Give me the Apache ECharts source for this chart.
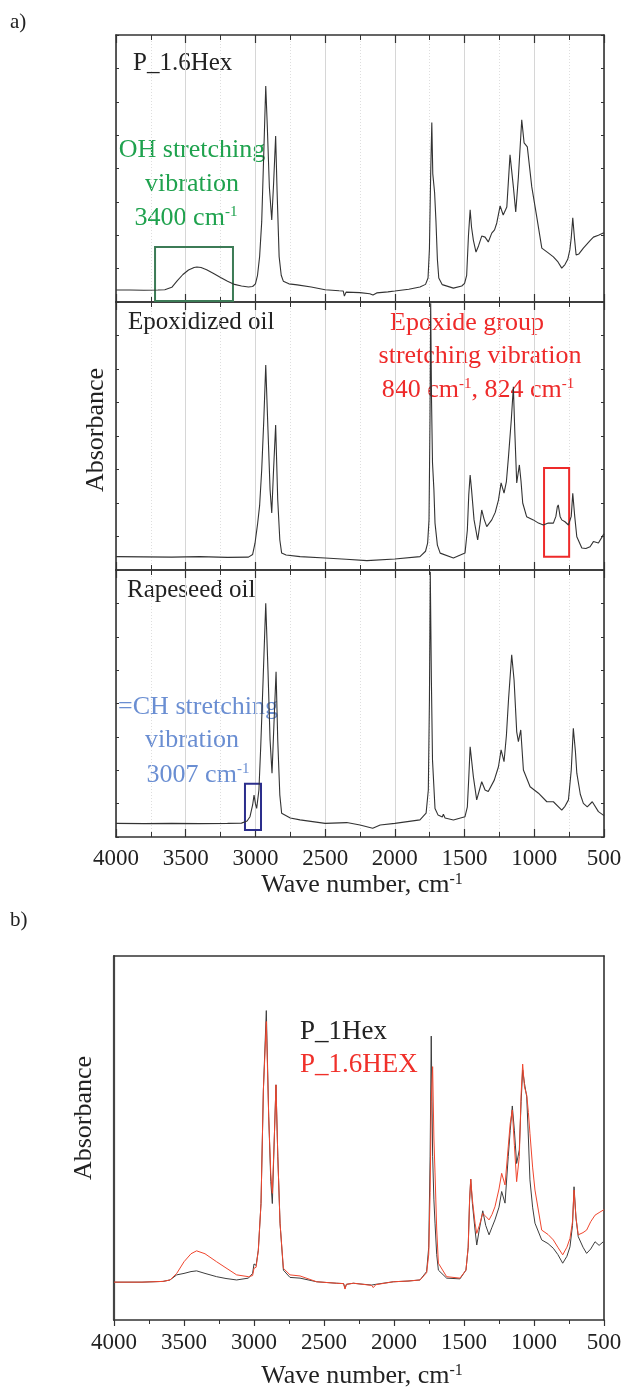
<!DOCTYPE html>
<html>
<head>
<meta charset="utf-8">
<script src="https://cdn.jsdelivr.net/npm/echarts@6/dist/echarts.min.js"></script>
<style>
html,body{margin:0;padding:0;background:#fff;}
#chart{width:627px;height:1387px;}
</style>
</head>
<body>
<div id="chart"></div>
<script>
// ---- data: [wave number (cm-1), absorbance (a.u., relative to panel height)] ----
const spec_p16hex = [
[4000,0.045],[3900,0.045],[3800,0.044],[3700,0.045],[3650,0.046],[3600,0.055],[3560,0.080],[3520,0.103],
[3480,0.120],[3440,0.129],[3420,0.131],[3390,0.129],[3350,0.121],[3300,0.107],[3250,0.092],[3200,0.078],
[3150,0.066],[3100,0.060],[3050,0.056],[3020,0.058],[3000,0.068],[2985,0.100],[2970,0.170],[2955,0.300],
[2940,0.560],[2926,0.809],[2915,0.660],[2900,0.430],[2883,0.307],[2870,0.440],[2855,0.622],[2845,0.420],
[2830,0.170],[2815,0.100],[2800,0.078],[2760,0.068],[2700,0.064],[2600,0.056],[2500,0.046],[2400,0.042],
[2370,0.041],[2362,0.022],[2350,0.037],[2300,0.036],[2250,0.035],[2180,0.031],[2157,0.026],[2130,0.034],
[2050,0.038],[2000,0.041],[1900,0.048],[1820,0.056],[1780,0.066],[1762,0.090],[1752,0.200],[1743,0.480],
[1735,0.672],[1728,0.480],[1715,0.410],[1705,0.300],[1695,0.160],[1685,0.090],[1660,0.065],[1580,0.052],
[1520,0.060],[1500,0.070],[1485,0.100],[1472,0.250],[1460,0.345],[1450,0.280],[1437,0.232],[1418,0.187],
[1400,0.210],[1377,0.247],[1353,0.243],[1330,0.225],[1305,0.258],[1285,0.270],[1269,0.296],[1245,0.360],
[1223,0.326],[1197,0.356],[1174,0.551],[1150,0.431],[1133,0.337],[1114,0.468],[1090,0.682],[1073,0.596],
[1050,0.581],[1018,0.431],[982,0.318],[946,0.202],[900,0.184],[863,0.169],[830,0.150],[803,0.127],
[780,0.140],[760,0.160],[745,0.195],[735,0.240],[724,0.315],[712,0.240],[700,0.176],[680,0.180],
[648,0.202],[600,0.230],[576,0.243],[540,0.250],[505,0.258],[500,0.259]
];
const spec_epox = [
[4000,0.050],[3800,0.049],[3600,0.048],[3400,0.050],[3200,0.047],[3050,0.048],[3020,0.058],[3003,0.100],
[2985,0.170],[2970,0.240],[2955,0.373],[2940,0.560],[2926,0.765],[2910,0.522],[2895,0.300],[2883,0.213],
[2870,0.373],[2855,0.541],[2840,0.261],[2825,0.112],[2812,0.063],[2780,0.056],[2680,0.050],[2500,0.045],
[2350,0.040],[2200,0.035],[2000,0.041],[1820,0.050],[1780,0.070],[1765,0.100],[1755,0.187],[1748,0.560],
[1743,0.995],[1737,0.634],[1730,0.400],[1720,0.300],[1712,0.175],[1695,0.093],[1675,0.063],[1580,0.045],
[1497,0.063],[1480,0.149],[1470,0.280],[1460,0.354],[1450,0.300],[1432,0.187],[1406,0.112],[1390,0.170],
[1377,0.224],[1360,0.190],[1341,0.162],[1305,0.187],[1280,0.215],[1257,0.261],[1238,0.325],[1217,0.287],
[1200,0.330],[1185,0.423],[1165,0.560],[1150,0.684],[1140,0.520],[1126,0.325],[1107,0.392],[1095,0.330],
[1083,0.250],[1055,0.199],[1007,0.187],[970,0.175],[935,0.168],[900,0.175],[863,0.175],[845,0.200],
[835,0.235],[828,0.243],[815,0.200],[803,0.187],[780,0.180],[755,0.168],[735,0.200],[724,0.286],
[710,0.200],[695,0.124],[659,0.082],[630,0.080],[600,0.087],[576,0.106],[540,0.101],[505,0.131],[500,0.135]
];
const spec_rapeseed = [
[4000,0.051],[3800,0.050],[3600,0.051],[3400,0.050],[3200,0.051],[3100,0.052],[3060,0.060],[3039,0.076],
[3020,0.120],[3010,0.157],[3000,0.125],[2991,0.107],[2975,0.176],[2962,0.338],[2945,0.588],[2926,0.875],
[2910,0.625],[2895,0.363],[2881,0.239],[2866,0.438],[2852,0.619],[2840,0.363],[2825,0.157],[2812,0.089],
[2750,0.071],[2680,0.064],[2500,0.051],[2345,0.054],[2250,0.045],[2159,0.033],[2105,0.045],[2000,0.051],
[1820,0.064],[1776,0.089],[1760,0.176],[1752,0.513],[1746,0.993],[1738,0.588],[1730,0.288],[1712,0.107],
[1690,0.082],[1660,0.075],[1652,0.085],[1640,0.071],[1580,0.064],[1497,0.076],[1480,0.113],[1470,0.220],
[1460,0.338],[1437,0.226],[1413,0.139],[1377,0.207],[1353,0.176],[1330,0.170],[1287,0.213],[1257,0.263],
[1238,0.326],[1217,0.282],[1200,0.380],[1185,0.513],[1162,0.682],[1145,0.588],[1126,0.394],[1114,0.357],
[1097,0.401],[1078,0.251],[1030,0.188],[970,0.164],[910,0.132],[863,0.132],[803,0.101],[780,0.115],
[755,0.139],[735,0.250],[720,0.407],[705,0.320],[695,0.239],[670,0.160],[648,0.126],[620,0.113],
[584,0.132],[540,0.095],[505,0.082],[500,0.080]
];
const spec_p1hex_b = [
[4000,0.104],[3800,0.104],[3650,0.106],[3600,0.110],[3552,0.124],[3500,0.128],[3450,0.133],[3410,0.135],
[3350,0.128],[3267,0.119],[3200,0.114],[3124,0.110],[3040,0.115],[3010,0.128],[3000,0.154],[2985,0.150],
[2969,0.192],[2950,0.320],[2933,0.632],[2912,0.850],[2895,0.560],[2880,0.380],[2869,0.320],[2855,0.500],
[2843,0.646],[2830,0.450],[2814,0.266],[2790,0.137],[2743,0.117],[2671,0.115],[2552,0.105],[2410,0.101],
[2360,0.100],[2350,0.087],[2340,0.098],[2290,0.101],[2243,0.099],[2160,0.096],[2148,0.093],[2130,0.098],
[2005,0.105],[1900,0.107],[1814,0.110],[1767,0.133],[1752,0.200],[1742,0.450],[1734,0.780],[1724,0.450],
[1715,0.330],[1707,0.266],[1695,0.180],[1683,0.137],[1624,0.115],[1529,0.113],[1486,0.137],[1470,0.200],
[1460,0.330],[1452,0.387],[1440,0.320],[1421,0.247],[1409,0.206],[1390,0.250],[1366,0.300],[1345,0.260],
[1321,0.234],[1300,0.255],[1279,0.275],[1250,0.310],[1231,0.353],[1207,0.321],[1184,0.449],[1170,0.520],
[1155,0.588],[1140,0.520],[1124,0.430],[1105,0.467],[1092,0.600],[1081,0.687],[1068,0.650],[1052,0.613],
[1040,0.500],[1029,0.385],[1010,0.310],[993,0.266],[945,0.220],[900,0.210],[862,0.197],[830,0.180],
[795,0.156],[765,0.175],[743,0.201],[725,0.260],[714,0.366],[700,0.280],[684,0.229],[650,0.200],
[624,0.183],[595,0.195],[564,0.215],[535,0.205],[505,0.215],[500,0.215]
];
const spec_p16hex_b = [
[4000,0.104],[3800,0.104],[3650,0.106],[3600,0.110],[3552,0.128],[3500,0.160],[3450,0.182],[3410,0.190],
[3350,0.182],[3267,0.160],[3200,0.143],[3124,0.124],[3040,0.119],[3010,0.122],[3000,0.142],[2985,0.145],
[2969,0.192],[2950,0.320],[2933,0.632],[2912,0.820],[2895,0.560],[2880,0.400],[2869,0.348],[2855,0.500],
[2843,0.646],[2830,0.450],[2814,0.266],[2790,0.142],[2743,0.124],[2671,0.121],[2552,0.105],[2410,0.101],
[2360,0.100],[2350,0.085],[2340,0.098],[2290,0.101],[2243,0.099],[2160,0.095],[2148,0.089],[2130,0.097],
[2005,0.105],[1900,0.107],[1814,0.110],[1767,0.130],[1752,0.180],[1742,0.350],[1734,0.600],[1724,0.696],
[1715,0.500],[1707,0.404],[1695,0.250],[1683,0.156],[1624,0.119],[1529,0.115],[1486,0.137],[1470,0.200],
[1460,0.330],[1452,0.387],[1440,0.330],[1421,0.266],[1409,0.238],[1390,0.260],[1366,0.293],[1345,0.285],
[1321,0.275],[1300,0.290],[1279,0.311],[1250,0.360],[1231,0.403],[1207,0.371],[1184,0.476],[1170,0.540],
[1155,0.577],[1140,0.480],[1124,0.380],[1105,0.449],[1092,0.620],[1081,0.703],[1068,0.640],[1052,0.618],
[1040,0.570],[1029,0.513],[1010,0.420],[993,0.357],[945,0.247],[900,0.235],[862,0.220],[830,0.200],
[795,0.179],[765,0.200],[743,0.224],[725,0.270],[714,0.357],[700,0.280],[684,0.234],[650,0.240],
[624,0.247],[595,0.270],[564,0.288],[535,0.295],[505,0.302],[500,0.303]
];
const xRange = [500, 4000];
const xStep = 500;

// ---- styling ----
const SERIF = '"Liberation Serif", "Times New Roman", serif';
const AX = '#333333';
const chart = echarts.init(document.getElementById('chart'), null, {renderer: 'canvas'});

const grids = [
  {left:116, top:35,  width:488, height:267},
  {left:116, top:302, width:488, height:268},
  {left:116, top:570, width:488, height:267},
  {left:114, top:956, width:490, height:364}
];

function xA(grid, pos, opts) {
  return Object.assign({
    type:'value', gridIndex:grid, position:pos, min:xRange[0], max:xRange[1], interval:xStep,
    inverse:true,
    axisLine:{show:true, onZero:false, lineStyle:{color:AX, width:1.6}},
    axisTick:{show:true, inside:true, length:8, lineStyle:{color:AX, width:1.2}},
    minorTick:{show:true, splitNumber:2, length:5, lineStyle:{color:AX, width:1}},
    axisLabel:{show:false},
    splitLine:{show:false}, minorSplitLine:{show:false}
  }, opts || {});
}
function yA(grid, pos, opts) {
  return Object.assign({
    type:'value', gridIndex:grid, position:pos, min:0, max:1, interval:0.125,
    axisLine:{show:true, onZero:false, lineStyle:{color:AX, width:1.6}},
    axisTick:{show:true, inside:true, length:3, lineStyle:{color:AX, width:1}},
    axisLabel:{show:false}, splitLine:{show:false}
  }, opts || {});
}
const gridSplit = {show:true, lineStyle:{color:'#d6d6d6', width:1}};
const gridMinorSplit = {show:true, lineStyle:{color:'#dedede', width:1, type:[1,2]}};
const tickLabel = {show:true, color:'#222', fontFamily:SERIF, fontSize:23, margin:10,
  formatter: function (v) { return String(v); }};

const xAxes = [
  xA(0,'bottom',{splitLine:gridSplit, minorSplitLine:gridMinorSplit}), xA(0,'top'),
  xA(1,'bottom',{splitLine:gridSplit, minorSplitLine:gridMinorSplit}), xA(1,'top'),
  xA(2,'bottom',{splitLine:gridSplit, minorSplitLine:gridMinorSplit, axisLabel:tickLabel}), xA(2,'top'),
  xA(3,'bottom',{
    axisTick:{show:true, inside:false, length:6, lineStyle:{color:AX, width:1.2}},
    minorTick:{show:true, splitNumber:2, length:4, lineStyle:{color:AX, width:1}},
    axisLabel:Object.assign({}, tickLabel, {margin:11})
  }),
  xA(3,'top',{axisTick:{show:false}, minorTick:{show:false}})
];
const yAxes = [
  yA(0,'left'), yA(0,'right'),
  yA(1,'left'), yA(1,'right'),
  yA(2,'left'), yA(2,'right'),
  yA(3,'left',{axisTick:{show:false}, axisLine:{show:true, onZero:false, lineStyle:{color:'#444', width:2.2}}}),
  yA(3,'right',{axisTick:{show:false}})
];

const lineCommon = {type:'line', showSymbol:false, symbol:'none', smooth:false, animation:false,
  emphasis:{disabled:true}};
const boxStyle = (c) => ({silent:true, itemStyle:{color:'rgba(0,0,0,0)', borderColor:c, borderWidth:2}});

const series = [
  Object.assign({}, lineCommon, {name:'P_1.6Hex', xAxisIndex:0, yAxisIndex:0, data:spec_p16hex,
    lineStyle:{color:'#333', width:1.1},
    markArea:Object.assign(boxStyle('#3c7b56'), {data:[[{xAxis:3720, yAxis:0.004},{xAxis:3161, yAxis:0.206}]]})}),
  Object.assign({}, lineCommon, {name:'Epoxidized oil', xAxisIndex:2, yAxisIndex:2, data:spec_epox,
    lineStyle:{color:'#333', width:1.1},
    markArea:Object.assign(boxStyle('#ee2a2a'), {data:[[{xAxis:930, yAxis:0.049},{xAxis:750, yAxis:0.381}]]})}),
  Object.assign({}, lineCommon, {name:'Rapeseed oil', xAxisIndex:4, yAxisIndex:4, data:spec_rapeseed,
    lineStyle:{color:'#333', width:1.1},
    markArea:Object.assign(boxStyle('#2b2e8c'), {data:[[{xAxis:3075, yAxis:0.026},{xAxis:2960, yAxis:0.199}]]})}),
  Object.assign({}, lineCommon, {name:'P_1Hex', xAxisIndex:6, yAxisIndex:6, data:spec_p1hex_b,
    lineStyle:{color:'#3d3d3d', width:1}}),
  Object.assign({}, lineCommon, {name:'P_1.6HEX', xAxisIndex:6, yAxisIndex:6, data:spec_p16hex_b,
    lineStyle:{color:'#f0462e', width:1}})
];

function txt(text, x, y, size, color, align, extra) {
  return Object.assign({
    type:'text', x:x, y:y, silent:true,
    style:{text:text, fill:color||'#222', font: size + 'px ' + SERIF,
      textAlign:align||'left', textVerticalAlign:'middle', align:align||'left', verticalAlign:'middle'}
  }, extra || {});
}
function supTxt(text, x, y, size, supSize, color, align, extra) {
  const t = txt(text, x, y, size, color, align, extra);
  t.style.rich = {sup:{font: supSize + 'px ' + SERIF, fill:color||'#222', verticalAlign:'top'}};
  return t;
}
const GREEN = '#1fa24e', RED = '#ee2a2a', BLUE = '#6a8ed2';

const graphics = [
  txt('a)', 10, 22, 21, '#222'),
  txt('b)', 10, 920, 21, '#222'),
  txt('P_1.6Hex', 133, 63, 25, '#222'),
  txt('Epoxidized oil', 128, 322, 25, '#222'),
  txt('Rapeseed oil', 127, 590, 25, '#222'),
  txt('OH stretching', 192, 150, 26, GREEN, 'center'),
  txt('vibration', 192, 184, 26, GREEN, 'center'),
  supTxt('3400 cm{sup|-1}', 186, 218, 26, 15, GREEN, 'center'),
  txt('Epoxide group', 467, 323, 26, RED, 'center'),
  txt('stretching vibration', 480, 356, 26, RED, 'center'),
  supTxt('840 cm{sup|-1}, 824 cm{sup|-1}', 478, 390, 26, 15, RED, 'center'),
  txt('=CH stretching', 198, 707, 26, BLUE, 'center'),
  txt('vibration', 192, 740, 26, BLUE, 'center'),
  supTxt('3007 cm{sup|-1}', 198, 775, 26, 15, BLUE, 'center'),
  txt('Absorbance', 96, 430, 26, '#222', 'center', {rotation:Math.PI/2}),
  txt('Absorbance', 84, 1118, 26, '#222', 'center', {rotation:Math.PI/2}),
  supTxt('Wave number, cm{sup|-1}', 362, 885, 26, 16, '#222', 'center'),
  supTxt('Wave number, cm{sup|-1}', 362, 1376, 26, 16, '#222', 'center'),
  txt('P_1Hex', 300, 1032, 27, '#222'),
  txt('P_1.6HEX', 300, 1065, 27, '#f0302a')
];

chart.setOption({
  backgroundColor:'#ffffff',
  animation:false,
  grid:grids,
  xAxis:xAxes,
  yAxis:yAxes,
  series:series,
  graphic:{elements:graphics}
});
</script>
</body>
</html>
